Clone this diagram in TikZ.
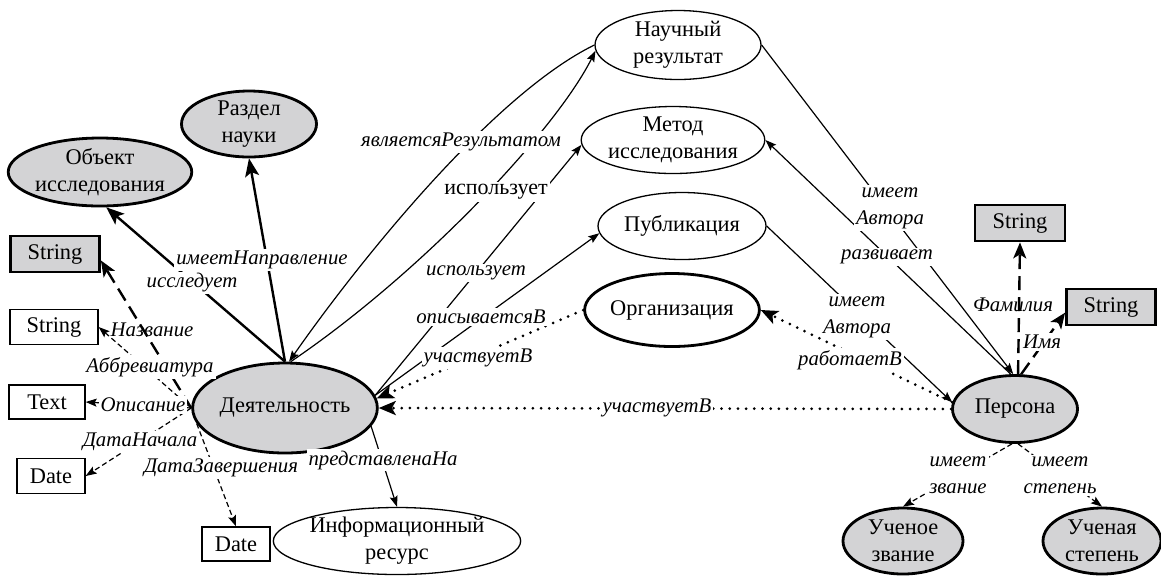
\documentclass[tikz,border=0pt]{standalone}
\usepackage{fontspec}
\setmainfont{Liberation Serif}
\usetikzlibrary{shapes.geometric,arrows.meta}
\definecolor{ngray}{RGB}{211,211,213}
\begin{document}
\begin{tikzpicture}[x=0.5pt,y=-0.5pt,
  every node/.style={font=\fontsize{11.2}{13.5}\selectfont, align=center, inner sep=0pt},
  gell/.style={ellipse, draw, line width=1.4pt, fill=ngray},
  well/.style={ellipse, draw, line width=0.65pt, fill=white},
  wellthick/.style={ellipse, draw, line width=1.4pt, fill=white},
  grect/.style={rectangle, draw, line width=1.4pt, fill=ngray},
  wrect/.style={rectangle, draw, line width=0.65pt, fill=white},
  lbl/.style={font=\fontsize{10.4}{13.5}\selectfont\itshape, fill=white, inner sep=1pt},
  lblnf/.style={font=\fontsize{10.4}{13.5}\selectfont\itshape, inner sep=1pt},
  lblu/.style={font=\fontsize{11}{13.5}\selectfont, fill=white, inner sep=1pt},
  thinarrow/.style={line width=0.6pt, -{Stealth[length=5.5pt,width=4pt,inset=1pt]}},
  thicksolid/.style={line width=1.2pt, -{Stealth[length=9pt,width=7pt,inset=2pt]}},
  thickdash/.style={line width=1.2pt, dash pattern=on 7pt off 3.5pt, -{Stealth[length=8pt,width=6.5pt,inset=2pt]}},
  thindash/.style={line width=0.6pt, dash pattern=on 2.6pt off 1.6pt, -{Stealth[length=5.5pt,width=4pt,inset=1pt]}},
  dotarrow/.style={line width=1.5pt, line cap=round, dash pattern=on 0pt off 4.1pt, -{Stealth[length=8.5pt,width=7pt,inset=2pt]}}
]
\useasboundingbox (0,0) rectangle (1161,575);

% nodes
\node[gell, minimum width=90pt, minimum height=34pt] (obj) at (100,172) {Объект\\исследования};
\node[gell, minimum width=67.5pt, minimum height=33pt] (razd) at (249,124) {Раздел\\науки};
\node[grect, minimum width=44.5pt, minimum height=18pt] (strg1) at (55,254) {String};
\node[wrect, minimum width=44pt, minimum height=17.5pt] (str1) at (54,327) {String};
\node[wrect, minimum width=38pt, minimum height=17pt] (txt) at (47,402) {Text};
\node[wrect, minimum width=34pt, minimum height=17.5pt] (date1) at (51,476) {Date};
\node[wrect, minimum width=34pt, minimum height=17pt] (date2) at (236,544) {Date};
\node[gell, minimum width=82pt, minimum height=45pt] (deyat) at (285,408) {Деятельность};
\node[well, minimum width=106.5pt, minimum height=33pt] (info) at (397,541) {Информационный\\ресурс};
\node[well, minimum width=83pt, minimum height=34.5pt] (nres) at (678,45) {Научный\\результат};
\node[well, minimum width=87pt, minimum height=33.5pt] (metod) at (673,140) {Метод\\исследования};
\node[well, minimum width=84pt, minimum height=33.5pt] (publ) at (682,226) {Публикация};
\node[wellthick, minimum width=80.5pt, minimum height=36.5pt] (org) at (672,310) {Организация};
\node[gell, minimum width=62.5pt, minimum height=33.5pt] (pers) at (1015,409) {Персона};
\node[grect, minimum width=45pt, minimum height=18pt] (strtr) at (1020,223) {String};
\node[grect, minimum width=44.5pt, minimum height=18pt] (strr) at (1111,307) {String};
\node[gell, minimum width=60pt, minimum height=33pt] (uzv) at (903,541) {Ученое\\звание};
\node[gell, minimum width=59pt, minimum height=33pt] (ust) at (1102,541) {Ученая\\степень};

% edges
\draw[thicksolid] (deyat.north) -- (obj.-80);
\draw[thicksolid] (deyat.north) -- (razd.south);
\draw[thickdash] (deyat.west) -- (strg1.-8);
\draw[thindash] (deyat.west) -- (str1.east);
\draw[thindash] (deyat.west) -- (txt.east);
\draw[thindash] (deyat.west) -- (date1.east);
\draw[thindash] (deyat.190) -- (date2.north);
\draw[thinarrow] (deyat.-12) -- (info.north);
\draw[thinarrow] (nres.west) .. controls +(-108,53) and +(57,-82) .. (deyat.85);
\draw[thinarrow] (deyat.83) .. controls +(130,-88) and +(-40,80) .. (nres.184);
\draw[thinarrow] (deyat.8) -- (metod.183);
\draw[thinarrow] (deyat.8) -- (publ.185);
\draw[dotarrow] (org.west) -- (deyat.6);
\draw[dotarrow] (pers.west) -- (deyat.east);
\draw[dotarrow] (pers.174) -- (org.east);
\draw[thinarrow] (publ.east) -- (pers.174);
\draw[thinarrow] (nres.east) -- (pers.93);
\draw[thinarrow] (pers.97) -- (metod.east);
\draw[thickdash] (pers.85) -- (strtr.south);
\draw[thickdash] (pers.80) -- (strr.187);
\draw[thindash] (pers.-95) -- (uzv.north);
\draw[thindash] (pers.-85) -- (ust.north);

% labels
\node[lbl] (l1) at (192,283) {исследует};
\node[lbl] (l2) at (262,260) {имеетНаправление};
\node[lbl] (l3) at (461,142) {являетсяРезультатом};
\node[lblu] (l4) at (496,192) {использует};
\node[lbl] (l5) at (476,273) {использует};
\node[lbl] (l6) at (481,317) {описываетсяВ};
\node[lbl] (l7) at (478,358) {участвуетВ};
\node[lbl] (l8) at (383,460) {представленаНа};
\node[lblnf] (l9) at (152,330) {Название};
\node[lbl] (l10) at (150,367) {Аббревиатура};
\node[lbl] (l11) at (143,405) {Описание};
\node[lbl] (l12) at (140,442) {ДатаНачала};
\node[lbl] (l13) at (221,468) {ДатаЗавершения};
\node[lbl] (l14) at (657,408) {участвуетВ};
\node[lbl] (l15) at (890,208) {имеет\\Автора};
\node[lbl] (l16) at (887,257) {развивает};
\node[lbl] (l17) at (857,317) {имеет\\Автора};
\node[lbl] (l18) at (850,360) {работаетВ};
\node[lblnf] (l19) at (1013,305) {Фамилия};
\node[lbl] (l20) at (1042,342) {Имя};
\node[lbl] (l21) at (958,475) {имеет\\звание};
\node[lbl] (l22) at (1060,475) {имеет\\степень};
\end{tikzpicture}
\end{document}
